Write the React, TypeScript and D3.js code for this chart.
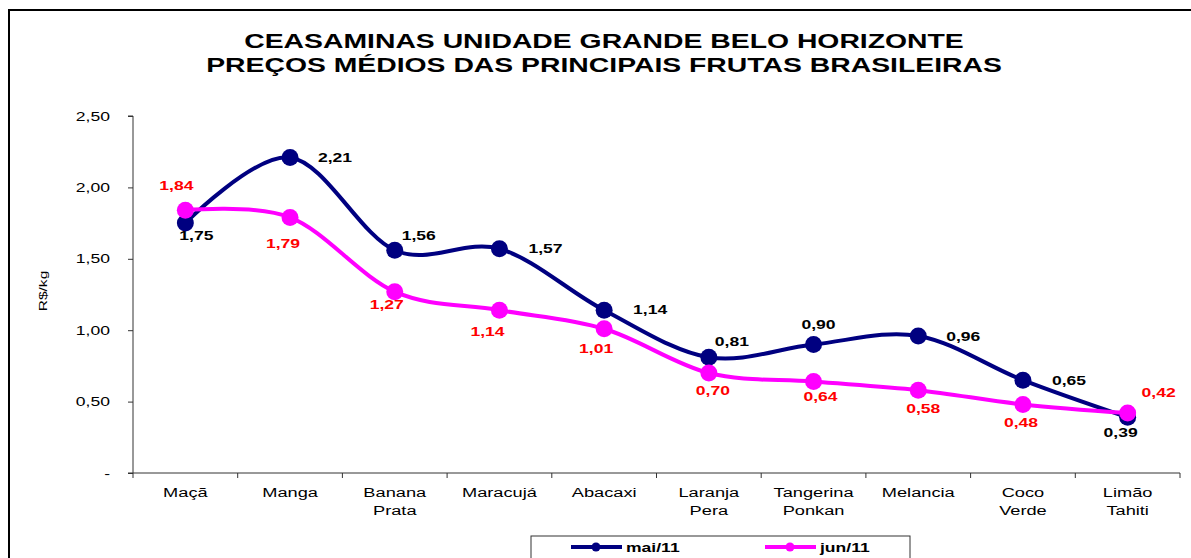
import React, { useEffect, useRef } from 'react';
import * as d3 from 'd3';

const categories = [
  'Maçã', 'Manga', 'Banana\nPrata', 'Maracujá', 'Abacaxi',
  'Laranja\nPera', 'Tangerina\nPonkan', 'Melancia', 'Coco\nVerde', 'Limão\nTahiti',
];
const maiValues = [1.75, 2.21, 1.56, 1.57, 1.14, 0.81, 0.9, 0.96, 0.65, 0.39];
const junValues = [1.84, 1.79, 1.27, 1.14, 1.01, 0.7, 0.64, 0.58, 0.48, 0.42];
const yTicks = [0, 0.5, 1, 1.5, 2, 2.5];
const titleLines = [
  'CEASAMINAS UNIDADE GRANDE BELO HORIZONTE',
  'PREÇOS MÉDIOS DAS PRINCIPAIS FRUTAS BRASILEIRAS',
];

// label offsets from each point (layout only)
const maiLabelOffset = [
  [11, 12], [45, 0], [24, -15], [46, 0], [46, -1],
  [23, -16], [5, -20], [45, 0], [46, 0], [-7, 15],
];
const junLabelOffset = [
  [-9, -25], [-7, 26], [-8, 13], [-12, 21], [-8, 20],
  [4, 17], [7, 15], [5, 18], [-2, 18], [31, -21],
];

const fmt = (v: number) => (v === 0 ? '-' : d3.format('.2f')(v).replace('.', ','));
const font = 'Liberation Sans, Arial, sans-serif';
const SX = 1.35; // the original text is drawn horizontally stretched

function txt(
  parent: d3.Selection<any, any, any, any>,
  x: number, y: number, s: string,
  o: { size?: number; bold?: boolean; fill?: string; anchor?: string; rotate?: number } = {},
) {
  return parent.append('text')
    .attr('transform', `translate(${x},${y}) rotate(${o.rotate || 0}) scale(${SX},1)`)
    .attr('text-anchor', o.anchor || 'middle')
    .attr('dominant-baseline', 'central')
    .attr('font-family', font)
    .attr('font-size', o.size || 13)
    .attr('font-weight', o.bold ? 'bold' : 'normal')
    .attr('fill', o.fill || '#000')
    .text(s);
}

function Chart() {
  const ref = useRef<SVGSVGElement>(null);

  useEffect(() => {
    const svg = d3.select(ref.current);
    svg.selectAll('*').remove();

    // outer frame
    svg.append('rect')
      .attr('x', 9).attr('y', 10).attr('width', 1200).attr('height', 600)
      .attr('fill', 'white').attr('stroke', '#000').attr('stroke-width', 2);

    titleLines.forEach((t, i) => txt(svg, 604, 40 + i * 24, t, { size: 21, bold: true }));

    const left = 133, right = 1180, top = 116, bottom = 473;
    const x = d3.scaleBand().domain(categories).range([left, right]);
    const y = d3.scaleLinear().domain([0, 2.5]).range([bottom, top]);
    const cx = (i: number) => (x(categories[i]) as number) + x.bandwidth() / 2;

    // y axis
    const yAxis = svg.append('g')
      .attr('transform', `translate(${left},0)`)
      .call(d3.axisLeft(y).tickValues(yTicks).tickFormat(() => '').tickSize(5));
    yAxis.select('.domain').attr('stroke', '#333').attr('d', `M-5,${bottom}H0V${top}H-5`);
    yAxis.selectAll('line').attr('stroke', '#333');
    yTicks.forEach(t => txt(svg, 110, y(t), fmt(t), { anchor: 'end' }));

    // x axis
    const xAxis = svg.append('g').attr('transform', `translate(0,${bottom})`);
    xAxis.append('line').attr('x1', left).attr('x2', right).attr('stroke', '#333');
    const bounds = d3.range(categories.length + 1).map(i => left + i * x.bandwidth());
    xAxis.selectAll('line.tk').data(bounds).enter().append('line')
      .attr('class', 'tk')
      .attr('x1', d => d).attr('x2', d => d).attr('y1', 0).attr('y2', 5)
      .attr('stroke', '#333');
    categories.forEach((c, i) => {
      c.split('\n').forEach((s, j) => txt(svg, cx(i), bottom + 19 + j * 18, s, { size: 13.5 }));
    });

    txt(svg, 43, 291, 'R$/kg', { size: 11.5, rotate: -90 });

    const line = d3.line<number>()
      .x((d, i) => cx(i))
      .y(d => y(d))
      .curve(d3.curveCatmullRom.alpha(0));

    const series = [
      { values: maiValues, color: '#000080', label: '#000', offs: maiLabelOffset },
      { values: junValues, color: '#FF00FF', label: '#FF0000', offs: junLabelOffset },
    ];

    series.forEach(s => {
      svg.append('path')
        .attr('d', line(s.values) as string)
        .attr('fill', 'none').attr('stroke', s.color).attr('stroke-width', 4)
        .attr('stroke-linejoin', 'round');
    });
    series.forEach(s => {
      svg.selectAll(null).data(s.values).enter().append('circle')
        .attr('cx', (d, i) => cx(i)).attr('cy', d => y(d)).attr('r', 8.5)
        .attr('fill', s.color);
    });
    series.forEach(s => {
      s.values.forEach((v, i) =>
        txt(svg, cx(i) + s.offs[i][0], y(v) + s.offs[i][1], fmt(v), { bold: true, fill: s.label }));
    });

    // legend
    const lg = svg.append('g');
    lg.append('rect')
      .attr('x', 531).attr('y', 536).attr('width', 379).attr('height', 40)
      .attr('fill', 'white').attr('stroke', '#333');
    [
      { name: 'mai/11', color: '#000080', x0: 571 },
      { name: 'jun/11', color: '#FF00FF', x0: 765 },
    ].forEach(it => {
      lg.append('line').attr('x1', it.x0).attr('x2', it.x0 + 51)
        .attr('y1', 547).attr('y2', 547)
        .attr('stroke', it.color).attr('stroke-width', 4);
      lg.append('circle').attr('cx', it.x0 + 25).attr('cy', 547).attr('r', 4.5).attr('fill', it.color);
      txt(lg, it.x0 + 55, 547, it.name, { bold: true, anchor: 'start' });
    });
  }, []);

  return <svg ref={ref} width={1191} height={558} style={{ display: 'block' }} />;
}

export default function App() {
  return (
    <div style={{ position: 'fixed', left: 0, top: 0 }}>
      <Chart />
    </div>
  );
}
